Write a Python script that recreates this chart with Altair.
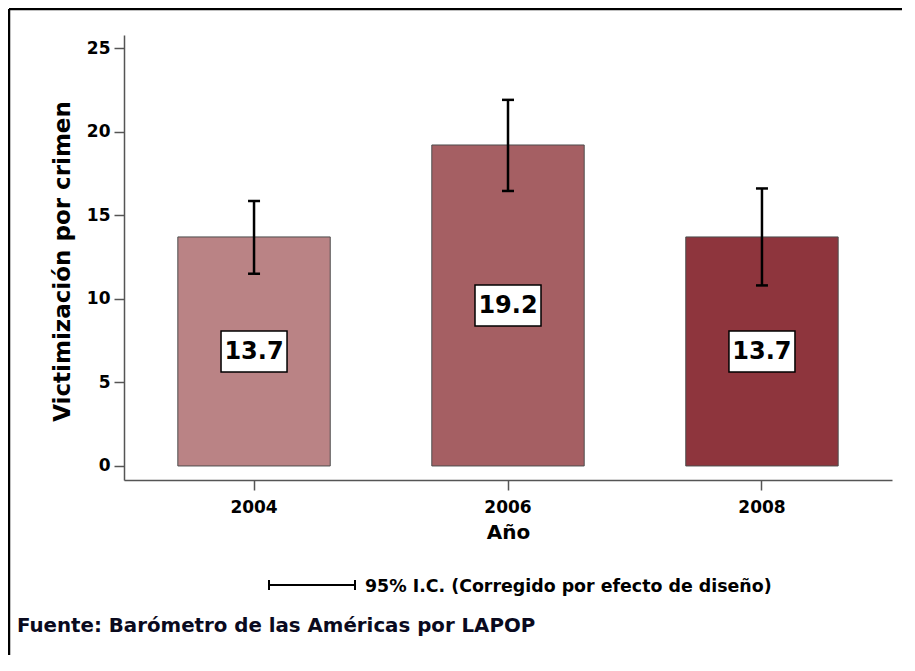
import altair as alt
import pandas as pd

# ---- data ----
years = ["2004", "2006", "2008"]
values = [13.7, 19.2, 13.7]
ci_low = [11.5, 16.45, 10.8]
ci_high = [15.85, 21.9, 16.6]
bar_colors = ["#BA8385", "#A55F63", "#8E353D"]
y_ticks = [0, 5, 10, 15, 20, 25]

y_title = "Victimización por crimen"
x_title = "Año"
ci_label = "95% I.C. (Corregido por efecto de diseño)"
source_label = "Fuente: Barómetro de las Américas por LAPOP"

FONT = "DejaVu Sans"

df = pd.DataFrame({
    "year": years,
    "value": values,
    "lo": ci_low,
    "hi": ci_high,
})
df["mid"] = df["value"] / 2
df["label"] = [f"{v:.1f}" for v in values]

W, H = 768, 445

xscale = alt.Scale(paddingInner=0.4, paddingOuter=0.212)
yscale = alt.Scale(domain=[-0.84, 25.78], nice=False, zero=False)

xaxis = alt.Axis(
    title=x_title, labelAngle=0, tickSize=10, labelPadding=9,
    labelFont=FONT, labelFontSize=17, labelFontWeight="bold", labelColor="black",
    titleFont=FONT, titleFontSize=20, titleFontWeight="bold", titleColor="black",
    titleX=W / 2, titleY=58, titleBaseline="alphabetic", titleAlign="center",
    domainColor="#555555", domainWidth=1.5, tickColor="#555555", tickWidth=1.5,
    grid=False,
)
yaxis = alt.Axis(
    title=y_title, values=y_ticks, tickSize=10, labelPadding=4,
    labelFont=FONT, labelFontSize=17, labelFontWeight="bold", labelColor="black",
    titleFont=FONT, titleFontSize=23, titleFontWeight="bold", titleColor="black",
    titleAngle=270, titleX=-55, titleY=226, titleBaseline="alphabetic", titleAlign="center",
    domainColor="#555555", domainWidth=1.5, tickColor="#555555", tickWidth=1.5,
    grid=False,
)

base = alt.Chart(df).encode(
    x=alt.X("year:O", sort=None, scale=xscale, axis=xaxis)
)

bars = base.mark_bar(stroke="#4d4d4d", strokeWidth=1).encode(
    y=alt.Y("value:Q", scale=yscale, axis=yaxis),
    y2=alt.datum(0),
    color=alt.Color("year:O", scale=alt.Scale(domain=years, range=bar_colors), legend=None),
)

whisk = base.mark_rule(color="black", strokeWidth=2.5).encode(
    y="lo:Q", y2="hi:Q"
)
cap_lo = base.mark_tick(color="black", size=12, thickness=2.5, opacity=1).encode(y="lo:Q")
cap_hi = base.mark_tick(color="black", size=12, thickness=2.5, opacity=1).encode(y="hi:Q")

boxes = base.mark_point(
    shape="M-1,-0.62H1V0.62H-1Z", size=4356, filled=True,
    fill="white", stroke="black", strokeWidth=1.5, opacity=1, fillOpacity=1,
).encode(y="mid:Q")

labels = base.mark_text(
    font=FONT, fontSize=24, fontWeight="bold", color="black", baseline="middle", dy=1
).encode(y="mid:Q", text="label:N")

# ---- annotations (legend, source, frame) ----
ann = alt.Chart(pd.DataFrame({"t": [ci_label], "s": [source_label]}))

leg_line = ann.mark_rule(color="black", strokeWidth=2).encode(
    x=alt.value(145), x2=alt.value(231), y=alt.value(550)
)
leg_cap1 = ann.mark_rule(color="black", strokeWidth=2).encode(
    x=alt.value(145), y=alt.value(545), y2=alt.value(555)
)
leg_cap2 = ann.mark_rule(color="black", strokeWidth=2).encode(
    x=alt.value(231), y=alt.value(545), y2=alt.value(555)
)
leg_text = ann.mark_text(
    font=FONT, fontSize=17.4, fontWeight="bold", color="black", align="left", baseline="alphabetic"
).encode(x=alt.value(241), y=alt.value(557), text="t:N")

src_text = ann.mark_text(
    font=FONT, fontSize=19.8, fontWeight="bold", color="#0a0a1e", align="left", baseline="alphabetic"
).encode(x=alt.value(-107), y=alt.value(597), text="s:N")

frame_top = ann.mark_rule(color="black", strokeWidth=2.5).encode(
    x=alt.value(-115), x2=alt.value(790), y=alt.value(-26)
)
frame_left = ann.mark_rule(color="black", strokeWidth=2.5).encode(
    x=alt.value(-115), y=alt.value(-26), y2=alt.value(640)
)

chart = alt.layer(
    bars, whisk, cap_lo, cap_hi, boxes, labels,
    leg_line, leg_cap1, leg_cap2, leg_text, src_text, frame_top, frame_left,
).properties(
    width=W, height=H,
    autosize=alt.AutoSizeParams(type="none"),
    padding={"left": 116, "top": 27, "right": 10, "bottom": 175},
    background="white",
).configure(
    font=FONT,
).configure_view(
    stroke=None, strokeWidth=0,
)

chart.save("out.html", embed_options={"renderer": "svg", "actions": False})
